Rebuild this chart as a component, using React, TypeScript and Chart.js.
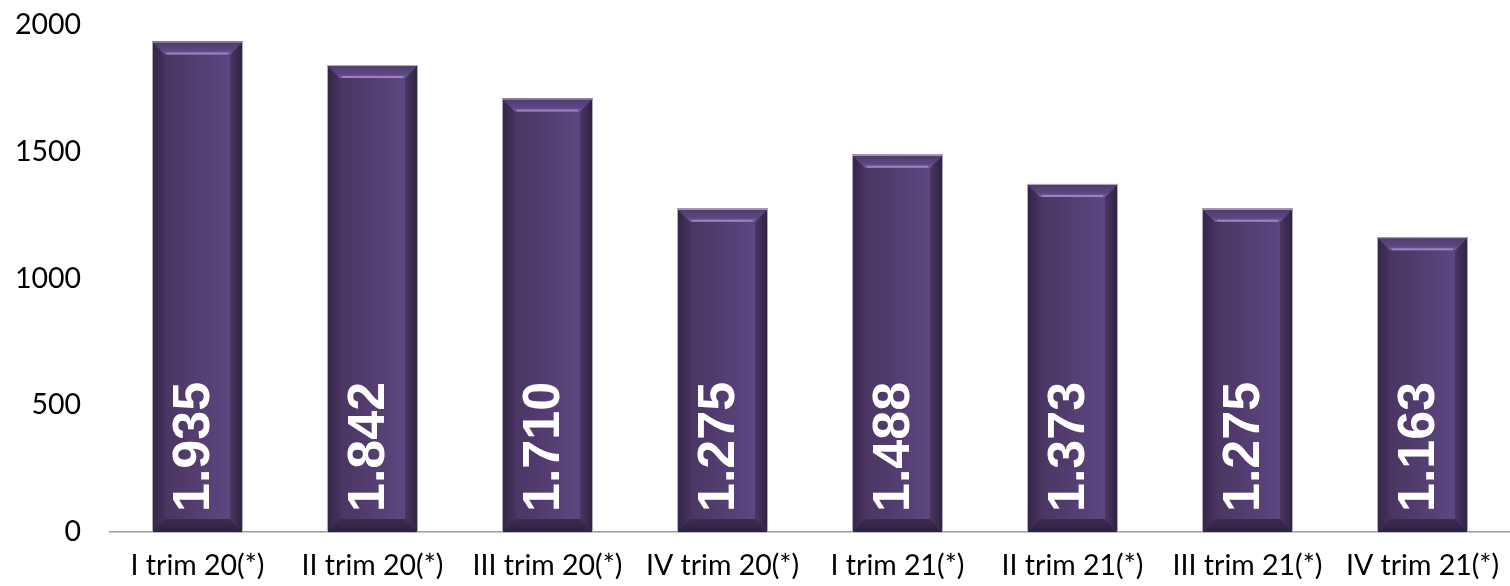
import React, { useEffect, useRef } from "react";
import { Chart, registerables } from "chart.js";

Chart.register(...registerables);

const categories = [
  "I trim 20(*)",
  "II trim 20(*)",
  "III trim 20(*)",
  "IV trim 20(*)",
  "I trim 21(*)",
  "II trim 21(*)",
  "III trim 21(*)",
  "IV trim 21(*)",
];
const values = [1935, 1842, 1710, 1275, 1488, 1373, 1275, 1163];
const valueLabels = ["1.935", "1.842", "1.710", "1.275", "1.488", "1.373", "1.275", "1.163"];
const yTicks = [0, 500, 1000, 1500, 2000];

const TICK_FONT = "Lato";

const bevelPlugin = {
  id: "bevelBars",
  afterDatasetsDraw(chart: any) {
    const ctx = chart.ctx as CanvasRenderingContext2D;
    const meta = chart.getDatasetMeta(0);
    meta.data.forEach((bar: any, i: number) => {
      const p = bar.getProps(["x", "y", "base", "width"], true);
      const l = p.x - p.width / 2;
      const r = p.x + p.width / 2;
      const t = p.y;
      const b = p.base;
      const bv = 13;
      ctx.save();
      const g = ctx.createLinearGradient(l + bv, 0, r - bv, 0);
      g.addColorStop(0, "#4a3562");
      g.addColorStop(1, "#5e4681");
      ctx.fillStyle = g;
      ctx.fillRect(l, t, r - l, b - t);
      const poly = (pts: number[][], fill: any) => {
        ctx.beginPath();
        ctx.moveTo(pts[0][0], pts[0][1]);
        for (let k = 1; k < pts.length; k++) ctx.lineTo(pts[k][0], pts[k][1]);
        ctx.closePath();
        ctx.fillStyle = fill;
        ctx.fill();
      };
      const gl = ctx.createLinearGradient(l, 0, l + bv, 0);
      gl.addColorStop(0, "#33254a");
      gl.addColorStop(1, "#46325e");
      poly([[l, t], [l + bv, t + bv], [l + bv, b - bv], [l, b]], gl);
      const gr = ctx.createLinearGradient(r - bv, 0, r, 0);
      gr.addColorStop(0, "#4a3664");
      gr.addColorStop(1, "#2e2140");
      poly([[r, t], [r - bv, t + bv], [r - bv, b - bv], [r, b]], gr);
      const gt = ctx.createLinearGradient(0, t, 0, t + bv);
      gt.addColorStop(0, "#4f3a6c");
      gt.addColorStop(0.7, "#5d4783");
      gt.addColorStop(1, "#7a63a3");
      poly([[l, t], [r, t], [r - bv, t + bv], [l + bv, t + bv]], gt);
      const gb = ctx.createLinearGradient(0, b - bv, 0, b);
      gb.addColorStop(0, "#3c2b52");
      gb.addColorStop(1, "#2e2140");
      poly([[l, b], [r, b], [r - bv, b - bv], [l + bv, b - bv]], gb);
      ctx.strokeStyle = "rgba(170,150,205,0.7)";
      ctx.lineWidth = 2;
      ctx.beginPath();
      ctx.moveTo(l + bv + 2, t + bv - 1);
      ctx.lineTo(r - bv - 2, t + bv - 1);
      ctx.stroke();
      ctx.strokeStyle = "rgba(190,185,200,0.9)";
      ctx.lineWidth = 1;
      ctx.strokeRect(l + 0.5, t + 0.5, r - l - 1, b - t);
      ctx.translate(p.x - 3, b - 20);
      ctx.rotate(-Math.PI / 2);
      ctx.fillStyle = "#ffffff";
      ctx.font = 'bold 52px "Liberation Sans", Arial, sans-serif';
      ctx.textAlign = "left";
      ctx.textBaseline = "middle";
      ctx.fillText(valueLabels[i], 0, 0);
      ctx.restore();
    });
  },
};

export default function App() {
  const ref = useRef<HTMLCanvasElement | null>(null);
  useEffect(() => {
    if (!ref.current) return;
    const chart = new Chart(ref.current, {
      type: "bar",
      data: {
        labels: categories,
        datasets: [
          {
            data: values,
            backgroundColor: "#553f74",
            borderWidth: 0,
            barPercentage: 0.52,
            categoryPercentage: 1,
          },
        ],
      },
      options: {
        animation: false,
        responsive: false,
        maintainAspectRatio: false,
        layout: { padding: { top: 25, right: 0, left: 0, bottom: 0 } },
        plugins: { legend: { display: false }, tooltip: { enabled: false } },
        scales: {
          x: {
            grid: { display: false, drawTicks: false },
            border: { display: true, color: "#9a9a9a", width: 1.5 },
            ticks: {
              color: "#000000",
              font: { family: TICK_FONT, size: 28.5 },
              padding: 17,
              maxRotation: 0,
              autoSkip: false,
            },
            afterFit: (s: any) => {
              s.height = 54;
              s.paddingLeft = 0;
              s.paddingRight = 0;
            },
          },
          y: {
            min: 0,
            max: 2000,
            afterBuildTicks: (s: any) => {
              s.ticks = yTicks.map((v) => ({ value: v }));
            },
            grid: { display: false, drawTicks: false },
            border: { display: false },
            ticks: {
              color: "#000000",
              font: { family: TICK_FONT, size: 28.5 },
              padding: 29,
              callback: (v: any) => String(v),
            },
            afterFit: (s: any) => {
              s.width = 110;
              s.paddingTop = 0;
              s.paddingBottom = 0;
            },
          },
        },
      },
      plugins: [bevelPlugin],
    });
    return () => chart.destroy();
  }, []);
  return (
    <div style={{ position: "absolute", left: 0, top: 0, width: 1510, height: 586 }}>
      <canvas ref={ref} width={1510} height={586} style={{ display: "block" }} />
    </div>
  );
}
